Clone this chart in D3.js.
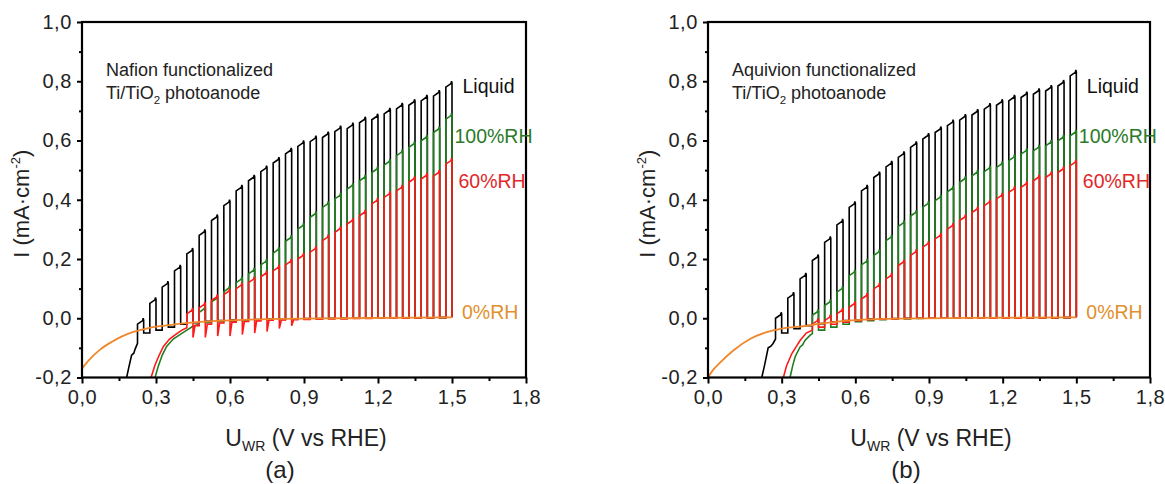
<!DOCTYPE html>
<html>
<head>
<meta charset="utf-8">
<script src="https://cdn.jsdelivr.net/npm/d3@7"></script>
<style>
  body { margin: 0; background: #fff; }
  text { font-family: "Liberation Sans", Arial, sans-serif; fill: #222; }
</style>
</head>
<body>
<script>
// chop cycles: light switched off at these potentials (V vs RHE)
var cycleV = [0.20, 0.25, 0.30, 0.35, 0.40, 0.45, 0.50, 0.55, 0.60, 0.65, 0.70, 0.75, 0.80, 0.85,
  0.90, 0.95, 1.00, 1.05, 1.10, 1.15, 1.20, 1.25, 1.30, 1.35, 1.40, 1.45, 1.50];

var xTicks = [0.0, 0.3, 0.6, 0.9, 1.2, 1.5, 1.8];
var yTicks = [-0.2, 0.0, 0.2, 0.4, 0.6, 0.8, 1.0];

// ---- panel (a) Nafion ----
var liquidA_lead = [[0.181, -0.2], [0.19, -0.165], [0.201, -0.125], [0.21, -0.118], [0.215, -0.105], [0.225, -0.085]];
var liquidA_light = [null, 0.0, 0.07, 0.125, 0.18, 0.237, 0.30, 0.35, 0.40, 0.45, 0.484, 0.515, 0.544, 0.575,
  0.60, 0.616, 0.63, 0.65, 0.66, 0.68, 0.69, 0.71, 0.727, 0.739, 0.754, 0.77, 0.80];
var liquidA_dark = [null, -0.05, -0.04, -0.03, -0.02, -0.015, -0.01, -0.008, -0.006, -0.005, -0.004, -0.003, -0.002, -0.002,
  -0.001, -0.001, 0, 0, 0, 0, 0, 0, 0, 0.001, 0.001, 0.002, 0.003];

var rh100A_lead = [[0.296, -0.2], [0.31, -0.16], [0.325, -0.125], [0.343, -0.095], [0.37, -0.07], [0.397, -0.055],
  [0.425, -0.04], [0.45, -0.027], [0.475, -0.02]];
var rh100A_light = [null, null, null, null, null, null, 0.04, 0.075, 0.11, 0.14, 0.17, 0.20, 0.24, 0.28,
  0.321, 0.361, 0.394, 0.423, 0.456, 0.484, 0.512, 0.537, 0.569, 0.597, 0.619, 0.647, 0.692];
var rh100A_dark = [null, null, null, null, null, null, -0.015, -0.012, -0.01, -0.008, -0.006, -0.005, -0.004, -0.003,
  -0.002, -0.002, -0.001, -0.001, 0, 0, 0, 0, 0, 0.001, 0.001, 0.002, 0.003];

var rh60A_lead = [[0.28, -0.2], [0.295, -0.16], [0.31, -0.13], [0.33, -0.095], [0.355, -0.07], [0.383, -0.053],
  [0.405, -0.04], [0.425, -0.032]];
var rh60A_light = [null, null, null, null, null, 0.035, 0.055, 0.08, 0.10, 0.12, 0.14, 0.16, 0.18, 0.20,
  0.22, 0.243, 0.282, 0.31, 0.338, 0.366, 0.406, 0.428, 0.45, 0.479, 0.49, 0.50, 0.54];
var rh60A_dark = [null, null, null, null, null, -0.025, -0.02, -0.016, -0.013, -0.011, -0.009, -0.007, -0.006, -0.005,
  -0.004, -0.003, -0.002, -0.002, -0.001, -0.001, 0, 0, 0, 0.001, 0.001, 0.002, 0.003];
var rh60A_under = [null, null, null, null, null, -0.065, -0.065, -0.06, -0.06, -0.055, -0.05, -0.045, -0.035, -0.025,
  null, null, null, null, null, null, null, null, null, null, null, null, null];

var rh0A = [[0, -0.17], [0.03, -0.14], [0.073, -0.106], [0.12, -0.08], [0.16, -0.062], [0.208, -0.046], [0.27, -0.033],
  [0.343, -0.024], [0.41, -0.017], [0.478, -0.012], [0.6, -0.007], [0.748, -0.003], [1.07, 0], [1.5, 0.003]];

// ---- panel (b) Aquivion ----
var liquidB_lead = [[0.219, -0.2], [0.23, -0.16], [0.245, -0.1], [0.255, -0.095], [0.265, -0.085], [0.275, -0.07]];
var liquidB_light = [null, null, 0.02, 0.088, 0.153, 0.215, 0.276, 0.335, 0.394, 0.45, 0.495, 0.531, 0.563, 0.597,
  0.625, 0.647, 0.67, 0.689, 0.706, 0.726, 0.739, 0.754, 0.765, 0.776, 0.787, 0.804, 0.838];
var liquidB_dark = [null, null, -0.05, -0.035, -0.025, -0.018, -0.012, -0.008, -0.005, -0.003, -0.002, -0.001, 0, 0,
  0, 0, 0, 0, 0, 0, 0, 0, 0.001, 0.001, 0.001, 0.002, 0.003];

var rh100B_lead = [[0.334, -0.2], [0.345, -0.16], [0.355, -0.13], [0.375, -0.097], [0.385, -0.09], [0.395, -0.075],
  [0.415, -0.058], [0.425, -0.052]];
var rh100B_light = [null, null, null, null, null, 0.03, 0.063, 0.108, 0.164, 0.20, 0.232, 0.282, 0.33, 0.365,
  0.395, 0.417, 0.447, 0.479, 0.501, 0.515, 0.529, 0.552, 0.574, 0.585, 0.602, 0.619, 0.636];
var rh100B_dark = [null, null, null, null, null, -0.04, -0.03, -0.02, -0.012, -0.008, -0.005, -0.003, -0.002, -0.001,
  0, 0, 0, 0, 0, 0, 0, 0, 0.001, 0.001, 0.001, 0.002, 0.003];

var rh60B_lead = [[0.307, -0.2], [0.32, -0.16], [0.341, -0.12], [0.36, -0.095], [0.375, -0.075], [0.4, -0.05], [0.425, -0.04]];
var rh60B_light = [null, null, null, null, null, 0.0, 0.012, 0.035, 0.057, 0.085, 0.119, 0.153, 0.198, 0.232,
  0.26, 0.288, 0.321, 0.35, 0.377, 0.40, 0.423, 0.445, 0.462, 0.484, 0.495, 0.512, 0.535];
var rh60B_dark = [null, null, null, null, null, -0.03, -0.02, -0.013, -0.008, -0.005, -0.003, -0.002, -0.001, 0,
  0, 0, 0, 0, 0, 0, 0, 0, 0.001, 0.001, 0.001, 0.002, 0.003];

var rh0B = [[0, -0.2], [0.02, -0.175], [0.049, -0.15], [0.103, -0.109], [0.171, -0.07], [0.239, -0.047], [0.3, -0.035],
  [0.408, -0.025], [0.45, -0.019], [0.6, -0.006], [0.78, -0.001], [1.07, 0.001], [1.5, 0.003]];

var colors = { liquid: "#000000", rh100: "#1f7f1f", rh60: "#ff1a1a", rh0: "#f0862a" };
var labelColors = { liquid: "#111111", rh100: "#2a7a2a", rh60: "#e02828", rh0: "#e0902e" };

var W = 1165, H = 484;
var svg = d3.select("body").append("svg").attr("width", W).attr("height", H);

var locale = d3.formatLocale({ decimal: ",", thousands: ".", grouping: [3], currency: ["", ""], minus: "-" });
var fmt = locale.format(".1f");

var ON_WIDTH = 0.025; // light-on part of each chop cycle (V)

// turn lead + per-cycle light/dark values into a chopped path
function chopPoints(lead, light, dark, under) {
  var pts = lead.slice();
  for (var i = 0; i < cycleV.length; i++) {
    if (light[i] == null) continue;
    var vOn = cycleV[i] - ON_WIDTH, vOff = cycleV[i];
    var last = pts[pts.length - 1];
    pts.push([vOn, last[1]]);
    pts.push([vOn, light[i] - 0.02]);
    pts.push([vOff - 0.004, light[i] - 0.008]);
    pts.push([vOff - 0.002, light[i]]);
    pts.push([vOff, light[i] - 0.006]);
    if (under && under[i] != null) {
      pts.push([vOff, under[i]]);
      pts.push([vOff + 0.008, dark[i]]);
    } else {
      pts.push([vOff, dark[i]]);
    }
  }
  return pts;
}

function drawPanel(p) {
  var g = svg.append("g");
  var x = d3.scaleLinear().domain([0, 1.8]).range([p.left, p.right]);
  var y = d3.scaleLinear().domain([-0.2, 1.0]).range([p.bottom, p.top]);

  var clipId = "clip" + p.tag;
  svg.append("defs").append("clipPath").attr("id", clipId)
    .append("rect").attr("x", p.left).attr("y", p.top)
    .attr("width", p.right - p.left).attr("height", p.bottom - p.top);

  var line = d3.line().x(function (d) { return x(d[0]); }).y(function (d) { return y(d[1]); });
  var smooth = d3.line().x(function (d) { return x(d[0]); }).y(function (d) { return y(d[1]); })
    .curve(d3.curveMonotoneX);

  var plot = g.append("g").attr("clip-path", "url(#" + clipId + ")");
  p.series.forEach(function (s) {
    plot.append("path")
      .attr("d", s.smooth ? smooth(s.points) : line(s.points))
      .attr("fill", "none")
      .attr("stroke", colors[s.key])
      .attr("stroke-width", s.smooth ? 1.8 : 1.6)
      .attr("stroke-linejoin", "miter");
  });

  // axes
  var xMinor = [0.15, 0.45, 0.75, 1.05, 1.35, 1.65];
  var yMinor = [-0.1, 0.1, 0.3, 0.5, 0.7, 0.9];

  g.append("g").attr("transform", "translate(0," + p.bottom + ")")
    .call(d3.axisBottom(x).tickValues(xTicks).tickFormat(fmt).tickSize(6).tickPadding(6));
  g.append("g").attr("transform", "translate(0," + p.bottom + ")")
    .call(d3.axisBottom(x).tickValues(xMinor).tickFormat("").tickSize(3.5));
  g.append("g").attr("transform", "translate(" + p.left + ",0)")
    .call(d3.axisLeft(y).tickValues(yTicks).tickFormat(fmt).tickSize(5).tickPadding(5));
  g.append("g").attr("transform", "translate(" + p.left + ",0)")
    .call(d3.axisLeft(y).tickValues(yMinor).tickFormat("").tickSize(3));

  g.selectAll(".domain").remove();
  g.selectAll(".tick line").attr("stroke", "#000").attr("stroke-width", 2);
  g.selectAll(".tick text").attr("font-size", 20).attr("fill", "#222")
    .attr("letter-spacing", 0.6)
    .attr("font-family", "'Liberation Sans', Arial, sans-serif");

  g.append("rect")
    .attr("x", p.left).attr("y", p.top)
    .attr("width", p.right - p.left).attr("height", p.bottom - p.top)
    .attr("fill", "none").attr("stroke", "#000").attr("stroke-width", 2.2);

  // axis titles
  var xt = g.append("text")
    .attr("x", (p.left + p.right) / 2 + 2).attr("y", 446)
    .attr("text-anchor", "middle").attr("font-size", 23);
  xt.append("tspan").text("U");
  xt.append("tspan").attr("font-size", 14).attr("dy", 5).text("WR");
  xt.append("tspan").attr("dy", -5).text(" (V vs RHE)");

  var yt = g.append("text")
    .attr("transform", "translate(" + (p.left - 53) + "," + ((p.top + p.bottom) / 2 + 4) + ") rotate(-90)")
    .attr("text-anchor", "middle").attr("font-size", 22);
  yt.append("tspan").text("I (mA·cm");
  yt.append("tspan").attr("font-size", 13).attr("dy", -9).text("-2");
  yt.append("tspan").attr("dy", 9).text(")");

  // panel letter
  g.append("text")
    .attr("x", p.letterX).attr("y", 478)
    .attr("text-anchor", "middle").attr("font-size", 24)
    .attr("font-family", "Lato, 'Open Sans', sans-serif")
    .text(p.letter);

  // annotation
  g.append("text").attr("x", p.left + 24).attr("y", 76).attr("font-size", 18).text(p.note);
  var n2 = g.append("text").attr("x", p.left + 24).attr("y", 99).attr("font-size", 18);
  n2.append("tspan").text("Ti/TiO");
  n2.append("tspan").attr("font-size", 11.5).attr("dy", 5).text("2");
  n2.append("tspan").attr("dy", -5).text(" photoanode");

  // curve labels
  var x15 = x(1.5);
  var labels = [
    { key: "liquid", text: "Liquid", dx: 10.5, y: 93 },
    { key: "rh100", text: "100%RH", dx: 2.5, y: 143 },
    { key: "rh60", text: "60%RH", dx: 6.5, y: 188 },
    { key: "rh0", text: "0%RH", dx: 10, y: 319 }
  ];
  labels.forEach(function (l) {
    g.append("text").attr("x", x15 + l.dx).attr("y", l.y)
      .attr("font-size", 19.5).style("fill", labelColors[l.key]).text(l.text);
  });
}

drawPanel({
  tag: "a", left: 82, right: 526, top: 22, bottom: 377.5, letter: "(a)", letterX: 280,
  note: "Nafion functionalized",
  series: [
    { key: "liquid", points: chopPoints(liquidA_lead, liquidA_light, liquidA_dark) },
    { key: "rh100", points: chopPoints(rh100A_lead, rh100A_light, rh100A_dark) },
    { key: "rh60", points: chopPoints(rh60A_lead, rh60A_light, rh60A_dark, rh60A_under) },
    { key: "rh0", points: rh0A, smooth: true }
  ]
});

drawPanel({
  tag: "b", left: 708, right: 1150, top: 22, bottom: 377.5, letter: "(b)", letterX: 906,
  note: "Aquivion functionalized",
  series: [
    { key: "liquid", points: chopPoints(liquidB_lead, liquidB_light, liquidB_dark) },
    { key: "rh100", points: chopPoints(rh100B_lead, rh100B_light, rh100B_dark) },
    { key: "rh60", points: chopPoints(rh60B_lead, rh60B_light, rh60B_dark) },
    { key: "rh0", points: rh0B, smooth: true }
  ]
});
</script>
</body>
</html>
